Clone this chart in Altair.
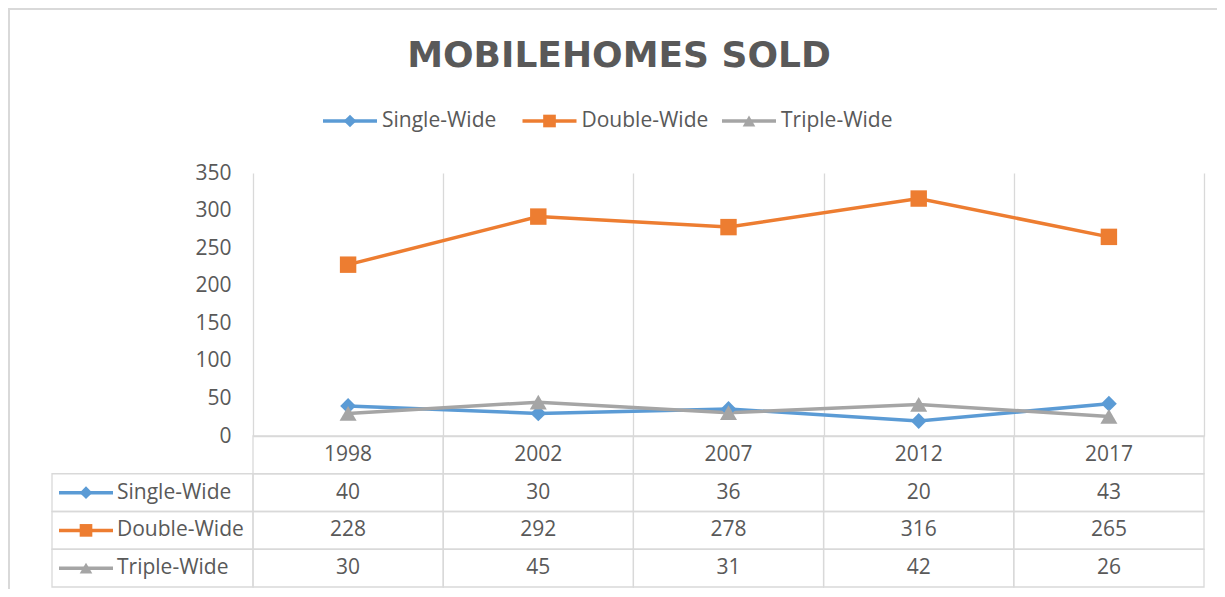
import altair as alt
import pandas as pd

# ---- data ----
years = ["1998", "2002", "2007", "2012", "2017"]
series = ["Single-Wide", "Double-Wide", "Triple-Wide"]
single_wide = [40, 30, 36, 20, 43]
double_wide = [228, 292, 278, 316, 265]
triple_wide = [30, 45, 31, 42, 26]
y_ticks = [0, 50, 100, 150, 200, 250, 300, 350]
title_text = "MOBILEHOMES SOLD"
header_row = "Year"

# ---- styles ----
colors = ["#5B9BD5", "#ED7D31", "#A5A5A5"]
shapes = ["diamond", "square", "triangle-up"]
plot_sizes = [250, 290, 270]
TXT = "#595959"
GRID = "#D9D9D9"
FONT = "Open Sans"
FS = 21
W, H = 951, 263
PB = 153

values = {"Single-Wide": single_wide, "Double-Wide": double_wide, "Triple-Wide": triple_wide}
long = pd.DataFrame(
    [{"year": y, "series": s, "value": v} for s in series for y, v in zip(years, values[s])]
)
header = pd.DataFrame({"year": years, "row": [header_row] * len(years)})
rows = [header_row] + series
cells = pd.DataFrame([{"year": y, "row": r} for r in rows for y in years])
series_df = pd.DataFrame({"series": series})
one = pd.DataFrame({"t": [title_text]})

xs = alt.Scale(type="band", domain=years, paddingInner=0, paddingOuter=0)
ys = alt.Scale(domain=[0, 350])
rs = alt.Scale(type="band", domain=rows, range=[263, 414], paddingInner=0, paddingOuter=0)
lx = alt.Scale(type="point", domain=series, range=[70, 469], padding=0)
cs = alt.Scale(domain=series, range=colors)
ss = alt.Scale(domain=series, range=shapes)
szs = alt.Scale(domain=series, range=plot_sizes)

col = alt.Color("series:N", scale=cs, legend=None)
shp = alt.Shape("series:N", scale=ss, legend=None)

x_year = alt.X("year:N", bandPosition=0.5, scale=xs, axis=None)
y_row_series = alt.Y("series:N", bandPosition=0.5, scale=rs, axis=None)

# main lines with axes
lines = alt.Chart(long).mark_line(strokeWidth=3.5).encode(
    x=alt.X(
        "year:N", bandPosition=0.5, scale=xs,
        axis=alt.Axis(labels=False, ticks=False, domain=True, domainColor=GRID,
                      domainWidth=1.3, grid=True, gridColor=GRID, gridWidth=1.3,
                      tickBand="extent", title=None),
    ),
    y=alt.Y(
        "value:Q", scale=ys,
        axis=alt.Axis(values=y_ticks, grid=False, domain=False, ticks=False,
                      labelFont=FONT, labelFontSize=FS, labelColor=TXT,
                      labelPadding=22, title=None),
    ),
    color=col,
    detail="series:N",
)

points = alt.Chart(long).mark_point(filled=True, opacity=1).encode(
    x=x_year,
    y=alt.Y("value:Q", scale=ys, axis=None),
    color=col,
    shape=shp,
    size=alt.Size("series:N", scale=szs, legend=None),
)

# data table
cell_rects = alt.Chart(cells).mark_rect(fillOpacity=0, stroke=GRID, strokeWidth=1.3).encode(
    x=alt.X("year:N", scale=xs, axis=None),
    y=alt.Y("row:N", scale=rs, axis=None),
)
label_rects = alt.Chart(series_df).mark_rect(fillOpacity=0, stroke=GRID, strokeWidth=1.3).encode(
    x=alt.value(-201), x2=alt.value(0),
    y=alt.Y("series:N", scale=rs, axis=None),
)
header_text = alt.Chart(header).mark_text(font=FONT, fontSize=FS, color=TXT, baseline="middle").encode(
    x=x_year,
    y=alt.Y("row:N", bandPosition=0.5, scale=rs, axis=None),
    text="year:N",
)
value_text = alt.Chart(long).mark_text(font=FONT, fontSize=FS, color=TXT, baseline="middle").encode(
    x=x_year,
    y=y_row_series,
    text="value:Q",
)
label_lines = alt.Chart(series_df).mark_rule(strokeWidth=3.5).encode(
    x=alt.value(-194), x2=alt.value(-140), y=y_row_series, color=col,
)
label_marks = alt.Chart(series_df).mark_point(filled=True, opacity=1, size=160).encode(
    x=alt.value(-167), y=y_row_series, color=col, shape=shp,
)
label_text = alt.Chart(series_df).mark_text(font=FONT, fontSize=FS, color=TXT, align="left", baseline="middle").encode(
    x=alt.value(-136), y=y_row_series, text="series:N",
)

# legend at top
leg_x = alt.X("series:N", scale=lx, axis=None)
leg_lines = alt.Chart(series_df).mark_rule(strokeWidth=3.5, x2Offset=54).encode(
    x=leg_x, x2=alt.X2("series:N"), y=alt.value(-52), color=col,
)
leg_marks = alt.Chart(series_df).mark_point(filled=True, opacity=1, size=160, xOffset=27).encode(
    x=leg_x, y=alt.value(-52), color=col, shape=shp,
)
leg_text = alt.Chart(series_df).mark_text(font=FONT, fontSize=FS, color=TXT, align="left",
                                          baseline="middle", xOffset=59).encode(
    x=leg_x, y=alt.value(-52), text="series:N",
)

# title
title = alt.Chart(one).mark_text(font="DejaVu Sans", fontSize=36, fontWeight="bold", color=TXT,
                                 align="center", baseline="alphabetic").encode(
    x=alt.value(366), y=alt.value(-106), text="t:N",
)

# outer border (top and left)
border_top = alt.Chart(one).mark_rule(color=GRID, strokeWidth=2).encode(
    x=alt.value(-245), x2=alt.value(W + 13), y=alt.value(-164),
)
border_left = alt.Chart(one).mark_rule(color=GRID, strokeWidth=2).encode(
    x=alt.value(-244), y=alt.value(-165), y2=alt.value(H + PB),
)

chart = alt.layer(
    border_top, border_left,
    cell_rects, label_rects, header_text, value_text,
    label_lines, label_marks, label_text,
    lines, points,
    leg_lines, leg_marks, leg_text,
    title,
).resolve_scale(
    x="independent", y="independent"
).properties(
    width=W, height=H,
    padding={"left": 245, "top": 165, "right": 13, "bottom": PB},
    autosize="none",
    background="white",
).configure_view(stroke=None)

chart.save("out.html", embed_options={"renderer": "svg", "actions": False})
